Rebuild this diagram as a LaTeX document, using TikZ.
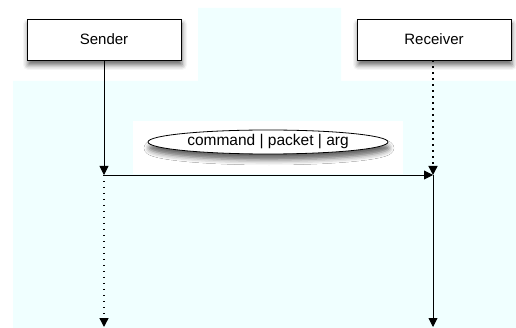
\documentclass[tikz,border=0pt]{standalone}
\usepackage{fontspec}
\setmainfont{Liberation Sans}
\usetikzlibrary{shapes.geometric,arrows.meta,shadows.blur}
\definecolor{bgcyan}{HTML}{F0FFFF}
\tikzset{
  actor/.style={draw=black, line width=0.8pt, fill=white, minimum width=154pt, minimum height=41pt, inner sep=0pt,
    blur shadow={shadow xshift=1pt, shadow yshift=-5pt, shadow blur radius=5pt, shadow opacity=60}, font=\fontsize{15}{17}\selectfont},
  msglabel/.style={ellipse, draw=black, line width=0.8pt, fill=white, minimum width=240pt, minimum height=24pt, inner sep=0pt,
    blur shadow={shadow xshift=1pt, shadow yshift=-6pt, shadow blur radius=5pt, shadow opacity=60}, font=\fontsize{15.5}{17}\selectfont},
  tip/.style={-{Triangle[length=9pt,width=9pt]}},
  solidline/.style={tip, line width=0.9pt},
  dotline/.style={tip, line width=1.4pt, dash pattern=on 1.4pt off 4.6pt},
}
\begin{document}
\begin{tikzpicture}[x=1pt,y=-1pt]
\useasboundingbox (0,0) rectangle (516,328);
% background
\fill[bgcyan] (13,81) -- (198,81) -- (198,8) -- (341,8) -- (341,81) -- (516,81) -- (516,328) -- (13,328) -- cycle;
\fill[white] (133,121) rectangle (403,174);
% actors
\node[actor] (sender) at (104,39.5) {Sender};
\node[actor] (receiver) at (434,39.5) {Receiver};
% lifeline points
\coordinate (s1) at (104,175);
\coordinate (s2) at (104,327);
\coordinate (r1) at (433,175);
\coordinate (r2) at (433,327);
% label
\node[msglabel] (lbl) at (268,142) {command | packet | arg};
% lifelines
\draw[solidline] (sender.south) -- (s1);
\draw[dotline] (s1) -- (s2);
\draw[dotline] (receiver.south -| r1) -- (r1);
\draw[solidline] (r1) -- (r2);
% message
\draw[solidline] (s1) -- (r1);
\end{tikzpicture}
\end{document}
